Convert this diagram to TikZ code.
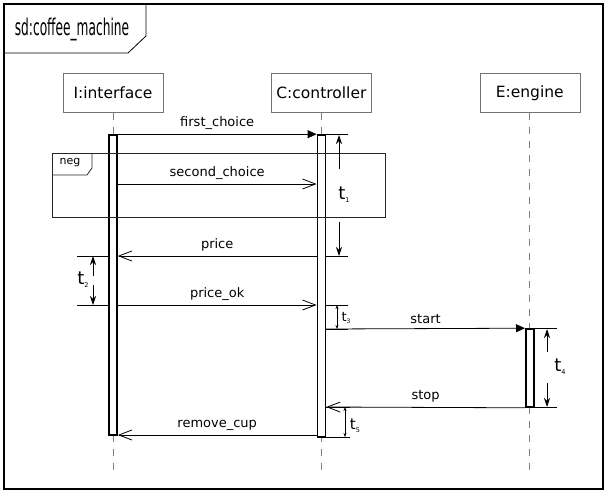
\documentclass[tikz,border=0pt]{standalone}
\usepackage{fontspec}
\setmainfont{DejaVu Sans}
\newfontfamily\condsans{DejaVu Sans}[FakeStretch=0.53]
\usepackage{tikz}
\usetikzlibrary{arrows.meta,positioning}
\definecolor{lifegray}{HTML}{808080}

% t with a small index below
\newcommand{\tmark}[3]{{\fontsize{#2}{#2}\selectfont t}\raisebox{-0.5ex}{\fontsize{#3}{#3}\selectfont #1}}

\begin{document}
\begin{tikzpicture}[
    x=1pt, y=-1pt,
    head/.style={rectangle, draw=black!55, fill=white, minimum width=100pt, minimum height=39pt, inner sep=0pt, font=\fontsize{15.5}{17}\selectfont},
    bar/.style={rectangle, draw=black, line width=1.6pt, fill=white, minimum width=8pt, inner sep=0pt},
    life/.style={draw=lifegray, line width=1pt, dash pattern=on 7pt off 7pt},
    msg/.style={-{Straight Barb[length=13pt,width=10pt]}, line width=0.8pt},
    call/.style={-{Triangle[length=9pt,width=8pt]}, line width=0.8pt},
    mlabel/.style={font=\fontsize{13}{15}\selectfont, above=1pt},
    tick/.style={line width=0.8pt},
    gap/.style={-{Stealth[length=9pt,width=6pt]}, line width=0.8pt},
    smallgap/.style={{Stealth[length=4pt,width=3pt]}-{Stealth[length=4pt,width=3pt]}, line width=0.6pt},
    tlabel/.style={inner sep=0pt}
]
\useasboundingbox (0,0) rectangle (608,493);

% Frame
\draw[line width=1.6pt] (4,4) rectangle (603,489);
\draw[line width=0.8pt] (4,53) -- (128,53) -- (146,36) -- (146,4);
\node[font=\condsans\fontsize{23}{25}\selectfont] (title) at (72,29) {sd:coffee\_machine};

% Lifeline heads
\node[head] (ifc) at (113,93) {I:interface};
\node[head, right=108pt of ifc] (ctl) {C:controller};
\node[head, right=108pt of ctl] (eng) {E:engine};

% Lifelines
\coordinate (ifcend) at (ifc.south |- 0,471);
\coordinate (ctlend) at (ctl.south |- 0,471);
\coordinate (engend) at (eng.south |- 0,471);
\draw[life] (ifc.south) -- (ifcend);
\draw[life] (ctl.south) -- (ctlend);
\draw[life] (eng.south) -- (engend);

% Activations
\node[bar, minimum height=300pt] (ifcbar) at (ifc.south |- 0,285) {};
\node[bar, minimum height=302pt] (ctlbar) at (ctl.south |- 0,286) {};
\node[bar, minimum height=78pt] (engbar) at (eng.south |- 0,368) {};

% neg fragment
\draw[line width=0.8pt, black!85] (52,153) rectangle (385,217);
\draw[line width=0.8pt, black!85] (52,175) -- (87,175) -- (92,168) -- (92,153);
\node[font=\fontsize{11}{13}\selectfont] (neg) at (70,163) {neg};

% Messages
\draw[call] (ifcbar.north east) -- node[mlabel] {first\_choice} (ctlbar.north west);
\draw[msg] (ifcbar.east |- 0,184) -- node[mlabel] {second\_choice} (ctlbar.west |- 0,184);
\draw[msg] (ctlbar.west |- 0,256) -- node[mlabel] {price} (ifcbar.east |- 0,256);
\draw[msg] (ifcbar.east |- 0,305) -- node[mlabel] {price\_ok} (ctlbar.west |- 0,305);
\draw[call] (ctlbar.east |- 0,329) -- node[mlabel] {start} (engbar.north west);
\draw[msg] (engbar.south west) -- node[mlabel] {stop} (ctlbar.east |- 0,407);
\draw[msg] (ctlbar.west |- 0,435) -- node[mlabel] {remove\_cup} (ifcbar.east |- 0,435);

% t1
\draw[tick] (ctlbar.north east) -- ++(22,0);
\draw[tick] (ctlbar.east |- 0,256) -- ++(22,0);
\node[tlabel] (t1) at (344,195) {\tmark{1}{18}{6.5}};
\draw[gap] (339,169) -- (339,135);
\draw[gap] (339,222) -- (339,256);

% t2
\draw[tick] (ifcbar.west |- 0,256) -- (77,256);
\draw[tick] (ifcbar.west |- 0,305) -- (77,305);
\node[tlabel] (t2) at (83,280) {\tmark{2}{18}{6.5}};
\draw[gap] (93,276) -- (93,256);
\draw[gap] (93,285) -- (93,305);

% t3
\draw[tick] (ctlbar.east |- 0,305) -- ++(22,0);
\draw[tick] (ctlbar.east |- 0,329) -- ++(22,0);
\node[tlabel] (t3) at (346,318) {\tmark{3}{13}{6}};
\draw[smallgap] (337,305) -- (337,329);

% t4
\draw[tick] (engbar.north east) -- ++(22,0);
\draw[tick] (engbar.south east) -- ++(22,0);
\node[tlabel] (t4) at (560,367) {\tmark{4}{18}{6.5}};
\draw[gap] (547,352) -- (547,329);
\draw[gap] (547,383) -- (547,407);

% t5
\draw[tick] (ctlbar.east |- 0,407) -- ++(24,0);
\draw[tick] (ctlbar.south east) -- ++(24,0);
\node[tlabel] (t5) at (355,426) {\tmark{5}{15}{6.5}};
\draw[smallgap] (345,407) -- (345,437);
\end{tikzpicture}
\end{document}
